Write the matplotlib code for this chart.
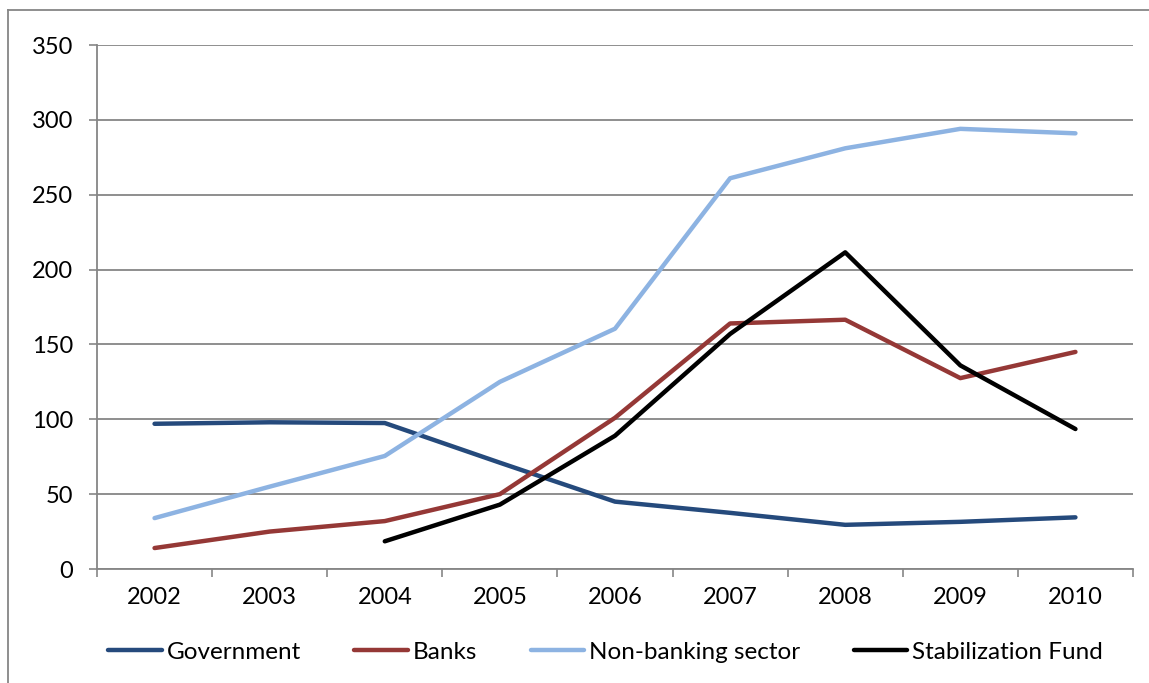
import matplotlib
matplotlib.use("Agg")
import matplotlib.pyplot as plt
from matplotlib.lines import Line2D
import numpy as np

years = ["2002", "2003", "2004", "2005", "2006", "2007", "2008", "2009", "2010"]
government = [97, 98, 97.5, 71, 45, 37.5, 29.5, 31.5, 34.5]
banks = [14, 25, 32, 50, 101, 164, 166.5, 127.5, 145]
non_banking = [34, 55, 75.5, 125, 160.5, 261, 281, 294, 291]
stab_years = ["2004", "2005", "2006", "2007", "2008", "2009", "2010"]
stabilization = [18.5, 43, 89, 157, 211.5, 136, 93.5]

plt.rcParams['font.family'] = ['Lato', 'DejaVu Sans']

fig = plt.figure(figsize=(11.49, 6.83), dpi=100)
ax = fig.add_axes([97/1149, 1-569/683, (1133-97)/1149, (569-45)/683])

x = np.arange(len(years)) + 0.5
xs = np.array([years.index(y) for y in stab_years]) + 0.5

lw = 3.2
ax.plot(x, government, color="#254A7C", lw=lw, label="Government", solid_capstyle="round")
ax.plot(x, banks, color="#953836", lw=lw, label="Banks", solid_capstyle="round")
ax.plot(x, non_banking, color="#8DB3E2", lw=lw, label="Non-banking sector", solid_capstyle="round")
ax.plot(xs, stabilization, color="#000000", lw=lw, label="Stabilization Fund", solid_capstyle="round")

ax.set_xlim(0, len(years))
ax.set_ylim(0, 350)
ax.set_yticks(np.arange(0, 351, 50))
ax.set_xticks(np.arange(0, len(years) + 1))
ax.set_xticklabels([])
ax.set_xticks(x, minor=True)
ax.set_xticklabels(years, minor=True)
ax.tick_params(axis="x", which="minor", length=0, pad=13, labelsize=17)
ax.tick_params(axis="x", which="major", length=6, width=1.2, color="#868686", direction="out")
ax.tick_params(axis="y", length=6, width=1.2, color="#868686", labelsize=17, pad=11)

ax.grid(axis="y", color="#868686", lw=1.3)
ax.set_axisbelow(True)
for s in ["top", "right"]:
    ax.spines[s].set_visible(False)
for s in ["left", "bottom"]:
    ax.spines[s].set_color("#868686")
    ax.spines[s].set_linewidth(1.3)

leg = fig.legend(loc="center", bbox_to_anchor=(0.527, 1-652/683), ncol=4, frameon=False,
                 fontsize=17.5, handlelength=2.2, handletextpad=0.2, columnspacing=2.2)

fig.add_artist(Line2D([8/1149, 8/1149], [0, 1-10/683], color="#868686", lw=1.3, transform=fig.transFigure))
fig.add_artist(Line2D([8/1149, 1], [1-10/683, 1-10/683], color="#868686", lw=1.3, transform=fig.transFigure))

fig.savefig("out.png", dpi=100)
